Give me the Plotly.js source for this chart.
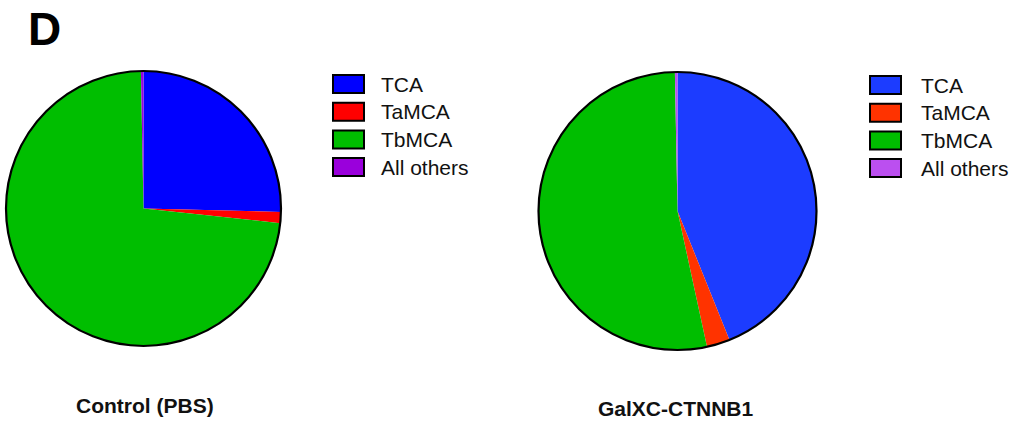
<!DOCTYPE html>
<html>
<head>
<meta charset="utf-8">
<script src="https://cdn.plot.ly/plotly-3.0.1.min.js"></script>
<style>
  html, body { margin: 0; padding: 0; background: #fff; }
  #chart { width: 1016px; height: 421px; }
</style>
</head>
<body>
<div id="chart"></div>
<script>
// Bile acid composition (% of total) for the two treatment groups
const categories = ['TCA', 'TaMCA', 'TbMCA', 'All others'];
const controlValues = [25.4, 1.3, 73.0, 0.3];
const galxcValues = [43.9, 2.7, 53.1, 0.3];
const groupTitles = ['Control (PBS)', 'GalXC-CTNNB1'];

const controlColors = ['#0000ff', '#ff0000', '#00be00', '#9a00dc'];
const galxcColors = ['#1c3cff', '#ff3300', '#00be00', '#bb4ff0'];

const W = 1016, H = 421;
const FONT = 'Liberation Sans, Arial, Helvetica, sans-serif';

// pixel geometry of each panel: pie centre/radius, legend origin, title position
const panels = [
  { values: controlValues, colors: controlColors, title: groupTitles[0],
    cx: 143.5, cy: 208.5, r: 137.5, legX: 333, textX: 379, legY: 84, titleX: 145, titleY: 405 },
  { values: galxcValues, colors: galxcColors, title: groupTitles[1],
    cx: 677.5, cy: 211, r: 139, legX: 870, textX: 919, legY: 85, titleX: 675.5, titleY: 408 }
];
const rowStep = 27.7;

const px = x => x / W;
const py = y => 1 - y / H;

const traces = [];
const shapes = [];
const annotations = [];

panels.forEach(p => {
  const dom = {
    x: [px(p.cx - p.r), px(p.cx + p.r)],
    y: [py(p.cy + p.r), py(p.cy - p.r)]
  };
  traces.push({
    type: 'pie',
    labels: categories,
    values: p.values,
    sort: false,
    direction: 'clockwise',
    rotation: 0,
    textinfo: 'none',
    hoverinfo: 'label+percent',
    showlegend: false,
    marker: { colors: p.colors, line: { width: 0 } },
    domain: dom
  });
  // outer rim of the pie
  shapes.push({
    type: 'circle', xref: 'paper', yref: 'paper',
    x0: dom.x[0], x1: dom.x[1], y0: dom.y[0], y1: dom.y[1],
    line: { color: '#000', width: 2.2 }, layer: 'above'
  });
  // legend swatches and labels
  categories.forEach((name, i) => {
    const yc = p.legY + i * rowStep;
    shapes.push({
      type: 'rect', xref: 'paper', yref: 'paper',
      x0: px(p.legX), x1: px(p.legX + 31),
      y0: py(yc + 9), y1: py(yc - 9),
      fillcolor: p.colors[i], line: { color: '#000', width: 2 }
    });
    annotations.push({
      xref: 'paper', yref: 'paper', x: px(p.textX), y: py(yc),
      xanchor: 'left', yanchor: 'middle', showarrow: false,
      text: name, font: { family: FONT, size: 21, color: '#111' }
    });
  });
  annotations.push({
    xref: 'paper', yref: 'paper', x: px(p.titleX), y: py(p.titleY),
    xanchor: 'center', yanchor: 'middle', showarrow: false,
    text: '<b>' + p.title + '</b>', font: { family: FONT, size: 21, color: '#111' }
  });
});

// panel letter
annotations.push({
  xref: 'paper', yref: 'paper', x: px(26), y: py(29),
  xanchor: 'left', yanchor: 'middle', showarrow: false,
  text: '<b>D</b>', font: { family: FONT, size: 46, color: '#000' }
});

const layout = {
  width: W, height: H,
  margin: { l: 0, r: 0, t: 0, b: 0 },
  paper_bgcolor: '#fff',
  plot_bgcolor: '#fff',
  showlegend: false,
  shapes: shapes,
  annotations: annotations
};

Plotly.newPlot('chart', traces, layout, { displayModeBar: false, staticPlot: true });
</script>
</body>
</html>
